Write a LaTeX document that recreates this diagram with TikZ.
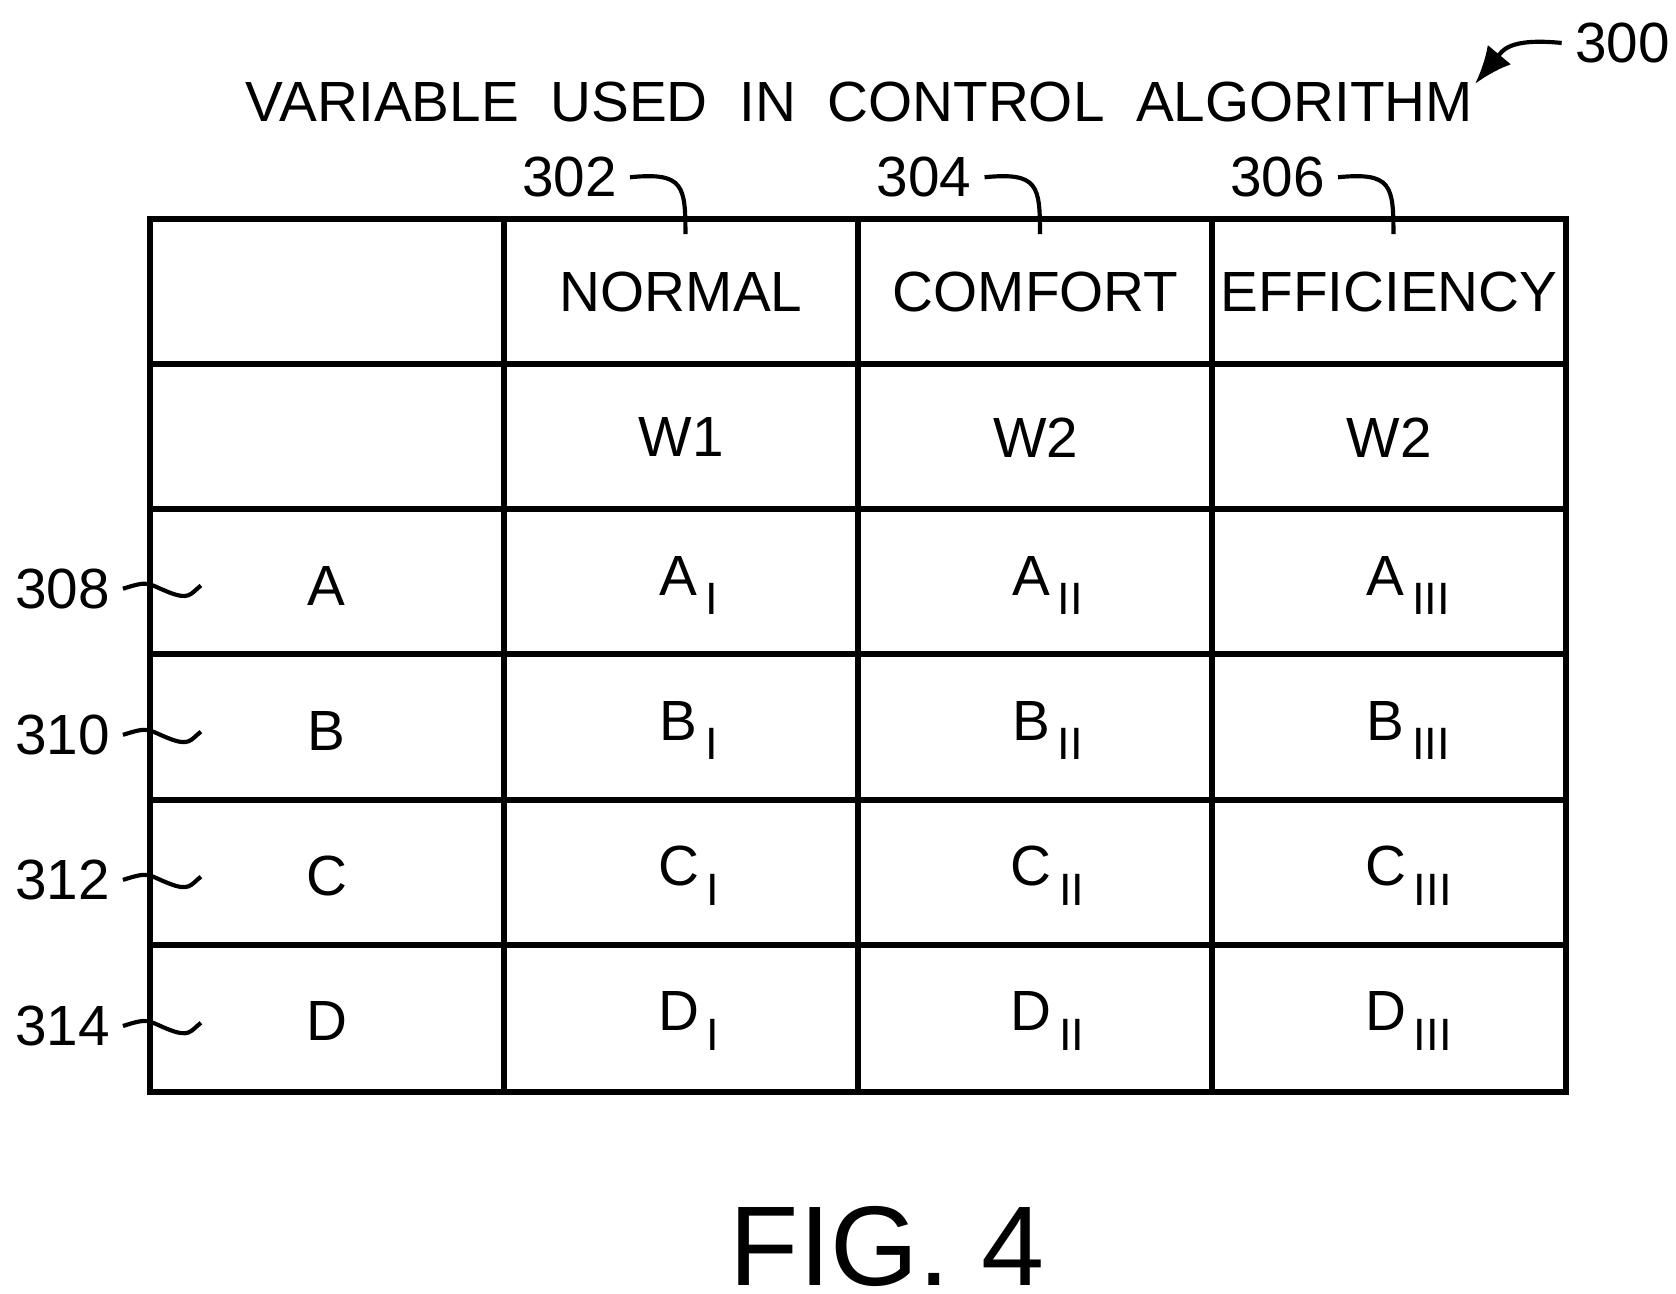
\documentclass[tikz,border=0pt]{standalone}
\usepackage{fontspec}
\setmainfont{Liberation Sans}
\usetikzlibrary{positioning,arrows.meta}

\tikzset{
  cell/.style={font=\fontsize{15}{17}\selectfont},
  refnum/.style={font=\fontsize{15}{17}\selectfont},
  leader/.style={line width=1.1pt},
}
\newcommand{\subidx}[2]{#1\raisebox{-0.35em}{\fontsize{12}{14}\selectfont\,#2}}

\begin{document}
\begin{tikzpicture}[x=0.01cm,y=-0.01cm]
  \useasboundingbox (0,0) rectangle (1560,1204);
  % grid
  \draw[line width=1.6pt] (140,204) rectangle (1458,1016);
  \foreach \x in {469,799,1128} \draw[line width=1.6pt] (\x,204) -- (\x,1016);
  \foreach \y in {339,474,609,745,880} \draw[line width=1.6pt] (140,\y) -- (1458,\y);

  \node[cell] (title) at (800,95) {VARIABLE\ \ USED\ \ IN\ \ CONTROL\ \ ALGORITHM};
  \node[cell] (normal) at (634,272) {NORMAL};
  \node[cell] (comfort) at (964,272) {COMFORT};
  \node[cell] (effic) at (1293,272) {EFFICIENCY};
  \node[cell] (w1) at (634,407) {W1};
  \node[cell] (w2a) at (964,407) {W2};
  \node[cell] (w2b) at (1293,407) {W2};

  % row entries
  \foreach \r/\y in {A/545,B/680,C/815,D/950} {
    \node[cell] (\r0) at (304,\y) {\r};
    \node[cell] (\r1) at (641,\y) {\subidx{\r}{I}};
    \node[cell] (\r2) at (975,\y) {\subidx{\r}{II}};
    \node[cell] (\r3) at (1311,\y) {\subidx{\r}{III}};
  }

  % column references
  \foreach \n/\x in {302/530,304/860,306/1189} {
    \node[refnum] (r\n) at (\x,165) {\n};
    \coordinate (e\n) at (\x+108,218);
    \draw[leader] (r\n.east) .. controls +(50,-5) and +(0,-45) .. (e\n);
  }
  % row references
  \foreach \n/\y in {308/548,310/684,312/819,314/955} {
    \node[refnum] (r\n) at (58,\y) {\n};
    \coordinate (e\n) at (187,\y-3);
    \draw[leader] (r\n.east) .. controls +(25,-8) and +(-20,-8) .. +(42,3)
      .. controls +(20,8) and +(-10,8) .. (e\n);
  }
  % figure reference
  \node[refnum] (r300) at (1510,40) {300};
  \coordinate (e300) at (1373,78);
  \draw[leader,-{Latex[length=10pt,width=8pt]}] (r300.west) .. controls +(-50,-5) and +(25,-30) .. (e300);

  \node[font=\fontsize{30}{34}\selectfont] (fig) at (826,1160) {FIG. 4};
\end{tikzpicture}
\end{document}
